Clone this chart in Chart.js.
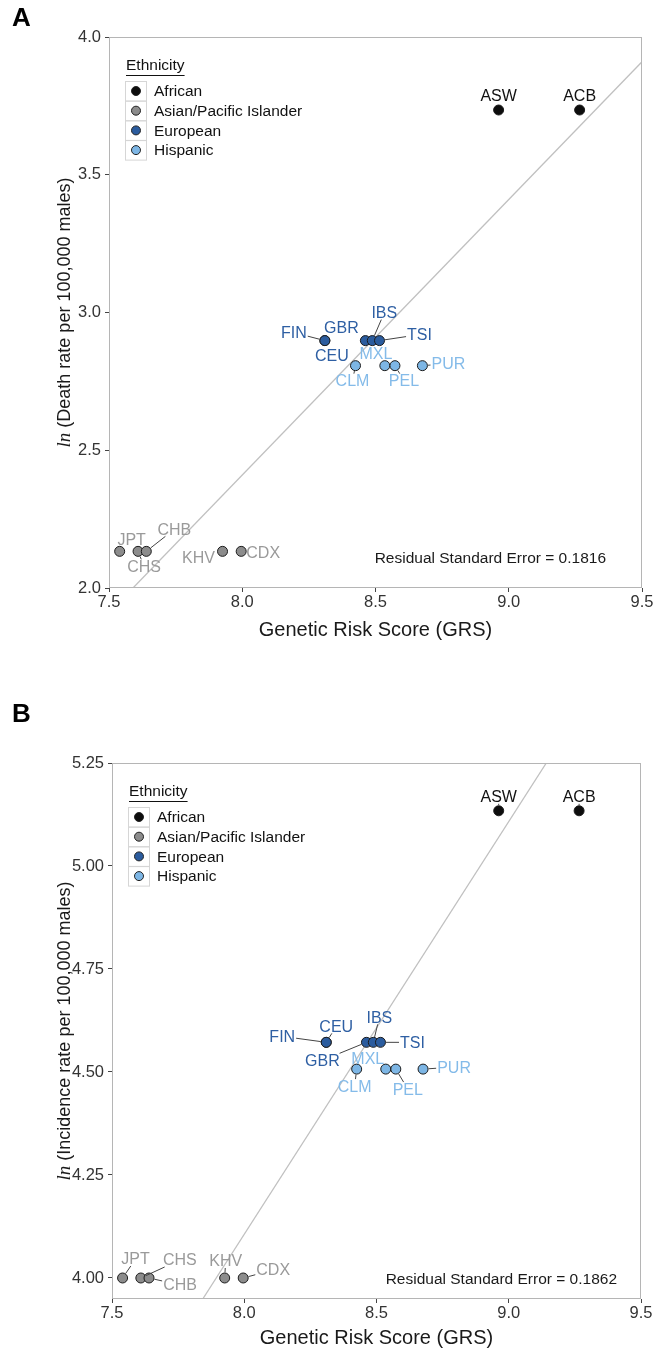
<!DOCTYPE html>
<html>
<head>
<meta charset="utf-8">
<script src="https://cdn.jsdelivr.net/npm/chart.js@4.4.1/dist/chart.umd.min.js"></script>
<style>
  body { margin: 0; background: #fff; width: 655px; height: 1353px; position: relative; overflow: hidden; font-family: "Liberation Sans", Arial, sans-serif; }
  .wrap { position: absolute; left: 0; width: 655px; }
  #wrapA { top: 0; height: 665px; }
  #wrapB { top: 680px; height: 673px; }
  .letter { position: absolute; left: 12px; font: bold 26px "Liberation Sans", Arial, sans-serif; color: #000; line-height: 30px; }
</style>
</head>
<body>
<div class="wrap" id="wrapA"><canvas id="chartA" width="655" height="665"></canvas></div>
<div class="wrap" id="wrapB"><canvas id="chartB" width="655" height="673"></canvas></div>
<div class="letter" style="top:2px">A</div>
<div class="letter" style="top:698px">B</div>
<script>
// ---- data ----
const populations = ["ASW", "ACB", "JPT", "CHS", "CHB", "KHV", "CDX", "FIN", "CEU", "GBR", "IBS", "TSI", "CLM", "MXL", "PEL", "PUR"];
const ethnicity = ["African", "African",
  "Asian/Pacific Islander", "Asian/Pacific Islander", "Asian/Pacific Islander", "Asian/Pacific Islander", "Asian/Pacific Islander",
  "European", "European", "European", "European", "European",
  "Hispanic", "Hispanic", "Hispanic", "Hispanic"];
const grs = [8.962, 9.266, 7.54, 7.609, 7.64, 7.926, 7.996, 8.31, 8.31, 8.462, 8.488, 8.515, 8.425, 8.535, 8.573, 8.676];
const lnDeath = [3.735, 3.735, 2.133, 2.133, 2.133, 2.133, 2.133, 2.898, 2.898, 2.898, 2.898, 2.898, 2.807, 2.807, 2.807, 2.807];
const lnIncidence = [5.134, 5.134, 4.0, 4.0, 4.0, 4.0, 4.0, 4.572, 4.572, 4.572, 4.572, 4.572, 4.507, 4.507, 4.507, 4.507];
const ethnicGroups = ["African", "Asian/Pacific Islander", "European", "Hispanic"];

const xTicks = [7.5, 8.0, 8.5, 9.0, 9.5];
const yTicksDeath = [2.0, 2.5, 3.0, 3.5, 4.0];
const yTicksIncidence = [4.0, 4.25, 4.5, 4.75, 5.0, 5.25];

// fitted regression lines (end points)
const fitDeathX = [7.59, 9.5];
const fitDeathY = [2.0, 3.91];
const fitIncidenceX = [7.843, 9.142];
const fitIncidenceY = [3.949, 5.25];

const rseDeath = 0.1816;
const rseIncidence = 0.1862;

// ---- styling ----
const FONT = '"Liberation Sans", Arial, sans-serif';
const fillColor = { "African": "#0d0d0d", "Asian/Pacific Islander": "#8c8c8c", "European": "#2b5c9e", "Hispanic": "#7db6e5" };
const textColor = { "African": "#111111", "Asian/Pacific Islander": "#9a9a9a", "European": "#2e5fa3", "Hispanic": "#84bbe9" };

// label offsets from the point, in pixels: [dx, dy, leader line]
const labelsDeath = {
  ASW: [0, -14, false], ACB: [0, -14, false],
  JPT: [12, -12, false], CHS: [6, 15, true], CHB: [28, -22, true], KHV: [-24, 6, false], CDX: [22, 1, false],
  FIN: [-31, -8, true], CEU: [7, 15, false], GBR: [-24, -13, false], IBS: [12, -28, true], TSI: [40, -6, true],
  CLM: [-3, 15, true], MXL: [-9, -12, false], PEL: [9, 15, true], PUR: [26, -2, true]
};
const labelsIncidence = {
  ASW: [0, -14, true], ACB: [0, -14, true],
  JPT: [13, -19, true], CHS: [39, -18, true], CHB: [31, 7, true], KHV: [1, -17, true], CDX: [30, -8, true],
  FIN: [-44, -6, true], CEU: [10, -16, true], GBR: [-44, 18, true], IBS: [6, -25, true], TSI: [32, 0, true],
  CLM: [-2, 17, true], MXL: [-18, -11, false], PEL: [12, 20, true], PUR: [31, -2, true]
};

function drawLeader(ctx, px, py, lx, ly, halfW, halfH) {
  const dx = px - lx, dy = py - ly;
  const len = Math.hypot(dx, dy);
  if (!len) return;
  const tx = dx ? (halfW + 1) / Math.abs(dx) : Infinity;
  const ty = dy ? (halfH + 1) / Math.abs(dy) : Infinity;
  const t = Math.min(tx, ty);
  const sx = lx + dx * t, sy = ly + dy * t;
  const ex = px - dx / len * 5.5, ey = py - dy / len * 5.5;
  if (t >= 1 || (ex - sx) * dx + (ey - sy) * dy <= 1) return;
  ctx.beginPath();
  ctx.moveTo(sx, sy);
  ctx.lineTo(ex, ey);
  ctx.stroke();
}

const decorPlugin = {
  id: "decor",
  afterDraw(chart, args, opts) {
    const ctx = chart.ctx;
    const a = chart.chartArea;
    ctx.save();

    // panel border
    ctx.strokeStyle = "#b5b5b5";
    ctx.lineWidth = 1;
    ctx.strokeRect(a.left + 0.5, a.top + 0.5, a.right - a.left - 1, a.bottom - a.top - 1);

    // point labels
    ctx.font = "16px " + FONT;
    ctx.textAlign = "center";
    ctx.textBaseline = "middle";
    chart.data.datasets.forEach((ds, di) => {
      if (!ds.codes) return;
      const meta = chart.getDatasetMeta(di);
      meta.data.forEach((pt, j) => {
        const code = ds.codes[j];
        const off = opts.labels[code];
        const lx = pt.x + off[0], ly = pt.y + off[1];
        if (off[2]) {
          ctx.strokeStyle = "#444";
          ctx.lineWidth = 1;
          drawLeader(ctx, pt.x, pt.y, lx, ly, ctx.measureText(code).width / 2, 6);
        }
        ctx.fillStyle = textColor[ds.label];
        ctx.fillText(code, lx, ly + 1);
      });
    });

    // legend
    const lx0 = a.left + 17;
    ctx.textAlign = "left";
    ctx.fillStyle = "#111";
    ctx.font = "15.5px " + FONT;
    ctx.fillText("Ethnicity", lx0, a.top + 29);
    const tw = ctx.measureText("Ethnicity").width;
    ctx.strokeStyle = "#111";
    ctx.beginPath();
    ctx.moveTo(lx0, a.top + 38.5);
    ctx.lineTo(lx0 + tw, a.top + 38.5);
    ctx.stroke();
    ethnicGroups.forEach((g, i) => {
      const cy = a.top + 54 + i * 19.7;
      ctx.strokeStyle = "#d6d6d6";
      ctx.strokeRect(a.left + 16.5, cy - 9.5, 21, 19.5);
      ctx.beginPath();
      ctx.arc(a.left + 27, cy, 4.5, 0, Math.PI * 2);
      ctx.fillStyle = fillColor[g];
      ctx.fill();
      ctx.strokeStyle = "#222";
      ctx.stroke();
      ctx.fillStyle = "#111";
      ctx.fillText(g, a.left + 45, cy + 1);
    });

    // residual standard error note
    ctx.textAlign = "right";
    ctx.fillStyle = "#1a1a1a";
    ctx.font = "15.5px " + FONT;
    ctx.fillText("Residual Standard Error = " + opts.rse.toFixed(4), a.right - opts.rseRight, a.bottom - opts.rseUp);

    // x axis title
    ctx.textAlign = "center";
    ctx.fillStyle = "#1a1a1a";
    ctx.font = "20px " + FONT;
    ctx.fillText("Genetic Risk Score (GRS)", (a.left + a.right) / 2, opts.xTitleY);

    // y axis title with italic "ln"
    ctx.translate(65, (a.top + a.bottom) / 2);
    ctx.rotate(-Math.PI / 2);
    ctx.font = "italic 19px \"Liberation Serif\", serif";
    const w1 = ctx.measureText("ln").width;
    ctx.font = "18px " + FONT;
    const rest = " (" + opts.yTitle + ")";
    const w2 = ctx.measureText(rest).width;
    let x0 = -(w1 + w2) / 2;
    ctx.textAlign = "left";
    ctx.font = "italic 19px \"Liberation Serif\", serif";
    ctx.fillText("ln", x0, 0);
    ctx.font = "18px " + FONT;
    ctx.fillText(rest, x0 + w1, 0);

    ctx.restore();
  }
};

function makePanel(canvasId, p) {
  const cv = document.getElementById(canvasId);
  const W = cv.width, H = cv.height;
  const datasets = ethnicGroups.map(g => {
    const idx = populations.map((c, i) => i).filter(i => ethnicity[i] === g);
    return {
      label: g,
      codes: idx.map(i => populations[i]),
      data: idx.map(i => ({ x: grs[i], y: p.yValues[i] })),
      pointRadius: 5,
      pointHoverRadius: 5,
      pointBackgroundColor: fillColor[g],
      pointBorderColor: "#1c1c1c",
      pointBorderWidth: 1,
      order: 1
    };
  });
  datasets.push({
    type: "line",
    label: "fit",
    data: p.fitX.map((x, i) => ({ x: x, y: p.fitY[i] })),
    showLine: true,
    borderColor: "#c0c0c0",
    borderWidth: 1.3,
    pointRadius: 0,
    order: 10
  });

  const tickFont = { family: FONT, size: 16.5 };
  return new Chart(cv, {
    type: "scatter",
    data: { datasets: datasets },
    options: {
      responsive: false,
      animation: false,
      devicePixelRatio: 1,
      layout: { padding: { top: p.top, right: W - p.right, left: 0, bottom: 0 } },
      plugins: {
        legend: { display: false },
        tooltip: { enabled: false },
        decor: { labels: p.labels, rse: p.rse, rseRight: p.rseRight, rseUp: p.rseUp, xTitleY: p.xTitleY, yTitle: p.yTitle }
      },
      scales: {
        x: {
          type: "linear", min: 7.5, max: 9.5,
          afterBuildTicks: s => { s.ticks = xTicks.map(v => ({ value: v })); },
          afterFit: s => { s.height = H - p.bottom; },
          ticks: { callback: v => v.toFixed(1), font: tickFont, color: "#333", padding: 1, maxRotation: 0, autoSkip: false },
          grid: { display: true, drawOnChartArea: false, drawTicks: true, tickLength: 4, tickColor: "#444", tickWidth: 1 },
          border: { display: false }
        },
        y: {
          type: "linear", min: p.yMin, max: p.yMax,
          afterBuildTicks: s => { s.ticks = p.yTicks.map(v => ({ value: v })); },
          afterFit: s => { s.width = p.left; },
          ticks: { callback: v => v.toFixed(p.decimals), font: tickFont, color: "#333", padding: 4, autoSkip: false },
          grid: { display: true, drawOnChartArea: false, drawTicks: true, tickLength: 4, tickColor: "#444", tickWidth: 1 },
          border: { display: false }
        }
      }
    },
    plugins: [decorPlugin]
  });
}

makePanel("chartA", {
  yValues: lnDeath, yTicks: yTicksDeath, yMin: 2.0, yMax: 4.0, decimals: 1,
  fitX: fitDeathX, fitY: fitDeathY, labels: labelsDeath,
  rse: rseDeath, rseRight: 36, rseUp: 29,
  yTitle: "Death rate per 100,000 males",
  left: 109, right: 642, top: 37, bottom: 588, xTitleY: 630
});

makePanel("chartB", {
  yValues: lnIncidence, yTicks: yTicksIncidence, yMin: 3.949, yMax: 5.25, decimals: 2,
  fitX: fitIncidenceX, fitY: fitIncidenceY, labels: labelsIncidence,
  rse: rseIncidence, rseRight: 24, rseUp: 19,
  yTitle: "Incidence rate per 100,000 males",
  left: 112, right: 641, top: 83, bottom: 619, xTitleY: 658
});
</script>
</body>
</html>
